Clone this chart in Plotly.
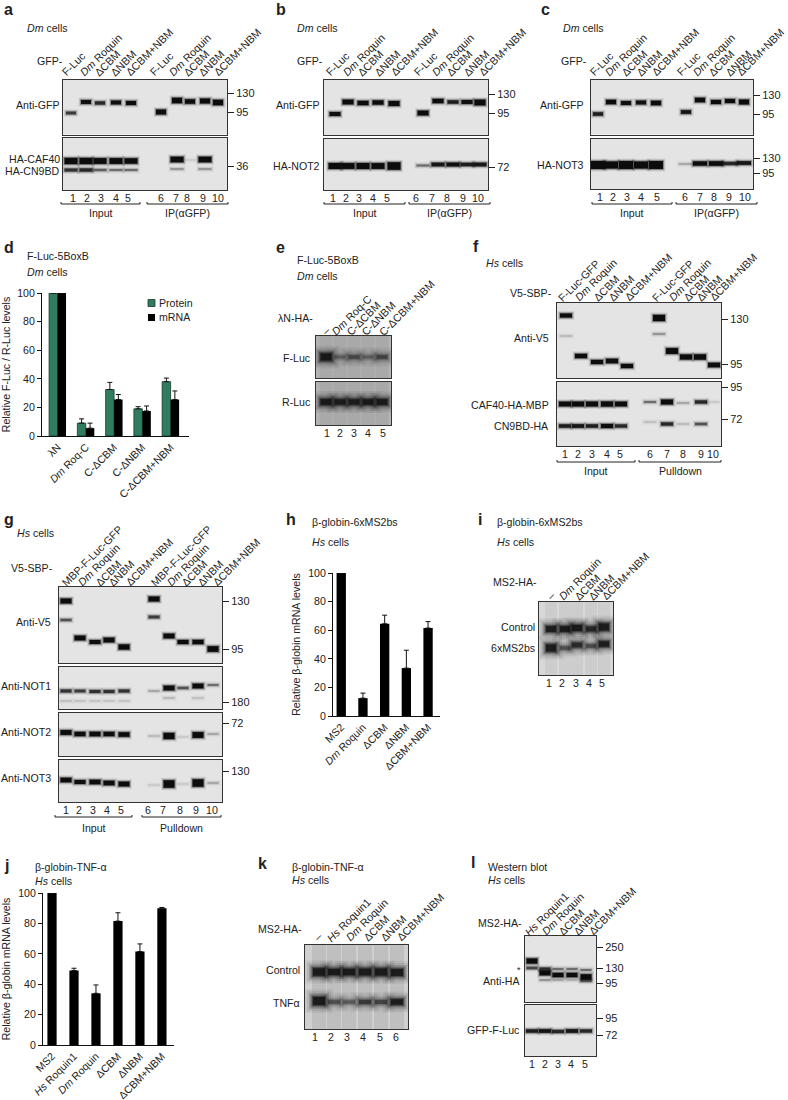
import plotly.graph_objects as go

W, H = 788, 1100
FONT = "Liberation Sans"
INK = "#222222"
TS = 10.6

# ---------- bar chart values ----------
D_CATS = ["λN", "<i>Dm</i> Roq-C", "C-ΔCBM", "C-ΔNBM", "C-ΔCBM+NBM"]
D_PROTEIN = [100, 9, 32.5, 19, 38]
D_PROTEIN_ERR = [0, 3, 5, 1.5, 2.5]
D_MRNA = [100, 5.5, 25.5, 17.5, 25.5]
D_MRNA_ERR = [0, 3.5, 3.5, 3.5, 6]

H_CATS = ["MS2", "<i>Dm</i> Roquin", "ΔCBM", "ΔNBM", "ΔCBM+NBM"]
H_VALUES = [100, 12.5, 64.5, 33.5, 61.5]
H_ERR = [0, 3.5, 6, 12.5, 4.5]

J_CATS = ["MS2", "<i>Hs</i> Roquin1", "<i>Dm</i> Roquin", "ΔCBM", "ΔNBM", "ΔCBM+NBM"]
J_VALUES = [100, 49, 34, 81.5, 61.5, 90]
J_ERR = [0, 1.5, 5.5, 5.5, 5, 0.5]

# ---------- blot bands: lane number, migration (from blot top), signal ----------
A1_LANE = [1, 2, 3, 4, 5, 6, 7, 8, 9, 10]
A1_MIG = [33, 22, 23, 22.5, 23, 32, 20.5, 21.5, 21, 22.5]
A1_SIG = [0.5, 0.75, 0.6, 0.75, 0.8, 1.0, 1.1, 0.9, 1.0, 1.1]
A2_LANE = [1, 2, 3, 4, 5, 1, 2, 3, 4, 5, 7, 9, 7, 9, 8]
A2_MIG = [23, 23, 23, 23, 23, 32, 32, 32, 32, 32, 21.5, 21.5, 31, 31, 22]
A2_SIG = [1.3, 1.3, 1.2, 1.2, 1.1, 0.55, 0.6, 0.35, 0.3, 0.3, 1.15, 1.15, 0.2, 0.2, 0.04]

B1_LANE = [1, 2, 3, 4, 5, 6, 7, 8, 9, 10]
B1_MIG = [34, 22, 23, 22.5, 23.5, 33, 21, 22, 22, 22.5]
B1_SIG = [0.75, 0.95, 0.85, 0.85, 1.0, 0.95, 0.85, 0.65, 0.75, 1.2]
B2_LANE = [1, 2, 3, 4, 5, 6, 7, 8, 9, 10]
B2_MIG = [27, 27, 27, 27, 27, 26.5, 25.5, 25.5, 25.5, 25.5]
B2_SIG = [1.25, 1.2, 1.25, 1.2, 1.6, 0.3, 0.7, 0.75, 0.65, 0.7]

C1_LANE = [1, 2, 3, 4, 5, 6, 7, 8, 9, 10]
C1_MIG = [34, 22, 23, 22.5, 23, 32, 20, 22, 21, 22]
C1_SIG = [0.65, 0.85, 0.75, 0.75, 0.9, 0.7, 0.9, 0.8, 0.8, 0.95]
C2_LANE = [1, 2, 3, 4, 5, 6, 7, 8, 9, 10]
C2_MIG = [26, 26, 26, 26, 26, 25, 24.5, 24.5, 24.5, 24]
C2_SIG = [1.7, 1.5, 1.7, 1.5, 1.7, 0.15, 0.85, 0.9, 0.6, 0.7]

E1_LANE = [1, 2, 3, 4, 5]
E1_MIG = [21, 21, 21, 21, 21]
E1_SIG = [1.6, 0.3, 0.5, 0.3, 0.55]
E2_LANE = [1, 2, 3, 4, 5]
E2_MIG = [20, 20, 20, 20, 20]
E2_SIG = [1.2, 1.05, 1.05, 1.1, 1.15]

F1_LANE = [1, 1, 2, 3, 4, 5, 6, 6, 7, 8, 9, 10]
F1_MIG = [12.5, 33, 53, 59, 58, 63, 15, 31, 48, 54, 54, 62]
F1_SIG = [0.8, 0.1, 0.85, 0.8, 0.9, 0.8, 1.3, 0.2, 1.2, 1.05, 1.1, 0.9]
F2_LANE = [1, 2, 3, 4, 5, 1, 2, 3, 4, 5, 6, 7, 8, 9, 6, 7, 8, 9, 10]
F2_MIG = [22, 22, 22, 22, 22, 44, 44, 44, 44, 44, 20, 20, 21, 20, 40, 42, 42, 42, 20]
F2_SIG = [0.95, 1.0, 1.0, 1.05, 0.95, 0.65, 0.7, 0.65, 0.8, 0.6, 0.3, 1.0, 0.15, 0.6, 0.08, 0.6, 0.1, 0.4, 0.05]

G1_LANE = [1, 1, 2, 3, 4, 5, 6, 6, 7, 8, 9, 10]
G1_MIG = [14, 33, 51, 55, 53, 60, 12, 30, 49, 55, 55, 62]
G1_SIG = [1.0, 0.4, 0.95, 0.75, 0.95, 1.05, 1.0, 0.5, 0.95, 0.8, 0.85, 1.15]
G2_LANE = [1, 2, 3, 4, 5, 6, 7, 8, 9, 10, 1, 2, 3, 4, 5, 7, 9]
G2_MIG = [24, 24, 24.5, 24.5, 24, 24, 21, 21, 19, 18, 34, 34, 34, 34, 34, 31, 31]
G2_SIG = [0.55, 0.5, 0.55, 0.55, 0.55, 0.15, 0.95, 0.4, 0.95, 0.3, 0.08, 0.07, 0.07, 0.07, 0.07, 0.1, 0.08]
G3_LANE = [1, 2, 3, 4, 5, 6, 7, 8, 9, 10]
G3_MIG = [19.5, 21, 21, 21, 21.5, 23, 23, 24, 22, 21]
G3_SIG = [0.95, 0.85, 0.9, 0.85, 0.9, 0.1, 1.3, 0.05, 1.2, 0.15]
G4_LANE = [1, 2, 3, 4, 5, 6, 7, 8, 9, 10]
G4_MIG = [20, 22, 22, 23, 24, 25, 24, 24, 23, 23]
G4_SIG = [0.9, 0.75, 0.9, 0.9, 0.95, 0.05, 1.6, 0.05, 1.6, 0.15]

I_LANE = [1, 2, 3, 4, 5, 1, 2, 3, 4, 5]
I_MIG = [27, 27, 26, 27, 25, 46, 46, 43, 44, 42]
I_SIG = [1.2, 1.15, 1.3, 0.95, 1.6, 1.6, 0.5, 0.9, 0.55, 1.1]

K_LANE = [1, 2, 3, 4, 5, 6, 1, 2, 3, 4, 5, 6]
K_MIG = [27, 27, 27, 27, 27, 27.5, 56, 57, 57, 57, 57, 57]
K_SIG = [1.7, 1.3, 1.4, 1.5, 1.6, 1.5, 1.9, 0.5, 0.4, 0.7, 0.6, 1.1]

L1_LANE = [1, 1, 2, 2, 2, 3, 3, 3, 4, 4, 4, 5, 5, 5]
L1_MIG = [25, 32, 37, 33, 44, 39, 33, 44, 39, 33, 44, 41, 34, 45]
L1_SIG = [1.05, 0.45, 0.95, 0.55, 0.2, 0.85, 0.3, 0.15, 0.85, 0.3, 0.12, 1.15, 0.3, 0.35]
L2_LANE = [1, 2, 3, 4, 5]
L2_MIG = [26, 26, 26.5, 26, 26]
L2_SIG = [0.65, 0.7, 0.6, 0.7, 0.6]

# ---------- tick labels ----------
LANES_10 = ["1", "2", "3", "4", "5", "6", "7", "8", "9", "10"]
LANES_5 = ["1", "2", "3", "4", "5"]
LANES_6 = ["1", "2", "3", "4", "5", "6"]
DM_SET = ["<i>Dm</i> Roquin", "ΔCBM", "ΔNBM", "ΔCBM+NBM"]

fig = go.Figure()
annotations, shapes, layout_axes = [], [], {}
axis_counter = [0]
ROT_DX = -5
ROT_DY = 6


def px(x):
    return x / W


def py(y):
    return 1 - y / H


def txt(x, y, s, anchor="left", size=TS, **kw):
    annotations.append(dict(x=px(x), y=py(y), xref="paper", yref="paper", text=s, showarrow=False,
                            xanchor=anchor, yanchor="middle", font=dict(size=size, color=INK), borderpad=0, **kw))


def letter(x, y, s):
    txt(x, y, f"<b>{s}</b>", size=16)


def rot(y, xs, labels):
    for x, s in zip(xs, labels):
        annotations.append(dict(x=px(x + ROT_DX), y=py(y + ROT_DY), xref="paper", yref="paper", text=s, showarrow=False,
                                xanchor="left", yanchor="bottom", textangle=-45,
                                font=dict(size=10.8, color=INK), borderpad=0))


def bracket(x0, x1, y, label, ly):
    path = f"M{px(x0)},{py(y - 2)} L{px(x0)},{py(y)} L{px(x1)},{py(y)} L{px(x1)},{py(y - 2)}"
    shapes.append(dict(type="path", path=path, xref="paper", yref="paper", line=dict(color="#222", width=1)))
    txt((x0 + x1) / 2, ly, label, anchor="center")


def new_axes(x0, x1, y0, y1):
    axis_counter[0] += 1
    n = axis_counter[0]
    return n, [px(x0), px(x1)], [py(y1), py(y0)]


def blot(box, lane_x, lanes, mig, sig, lane_w, bg="#e4e4e4", kda=None, numbers=None, smear=0.0):
    x0, x1, y0, y1 = box
    n, dx, dy = new_axes(x0, x1, y0, y1)
    h = y1 - y0
    shapes.append(dict(type="rect", xref="paper", yref="paper", x0=px(x0), x1=px(x1), y0=py(y1), y1=py(y0),
                       fillcolor=bg, line=dict(width=0), layer="below"))
    if smear:
        for xc in lane_x:
            fig.add_trace(go.Scatter(x=[xc, xc], y=[0, h], mode="lines", xaxis=f"x{n}", yaxis=f"y{n}",
                                     line=dict(color="#333", width=lane_w), opacity=smear,
                                     hoverinfo="skip", showlegend=False))
    for lane, m, s in zip(lanes, mig, sig):
        xc = lane_x[lane - 1]
        if smear:
            thick = 2 + 3.2 * s
            alpha = min(1, 0.8 * s + 0.1)
            layers = ((16, 0.05), (12, 0.08), (8, 0.14), (5, 0.22), (2.5, 0.4), (0, 0.75))
        else:
            thick = 0.8 + 4.2 * s
            alpha = min(1, 1.25 * s + 0.03)
            layers = ((5, 0.08), (3, 0.16), (1.5, 0.35), (0, 1.0))
        for extra, op in layers:
            half = lane_w / 2 + extra / 2 - 1
            fig.add_trace(go.Scatter(x=[xc - half, xc + half], y=[m, m], mode="lines",
                                     xaxis=f"x{n}", yaxis=f"y{n}",
                                     line=dict(color="#0c0c0c", width=thick + extra), opacity=alpha * op,
                                     hoverinfo="skip", showlegend=False))
    kv = [k[0] - y0 for k in kda] if kda else []
    kt = [k[1] for k in kda] if kda else []
    layout_axes[f"xaxis{n}"] = dict(domain=dx, range=[x0, x1], anchor=f"y{n}", showgrid=False, zeroline=False,
                                    showline=True, mirror=True, linecolor="#333", linewidth=1,
                                    tickvals=numbers[0] if numbers else [], ticktext=numbers[1] if numbers else [],
                                    ticks="", ticklen=0, ticklabelstandoff=-2, tickangle=0, fixedrange=True,
                                    tickfont=dict(size=TS, color=INK))
    layout_axes[f"yaxis{n}"] = dict(domain=dy, range=[h, 0], anchor=f"x{n}", side="right", showgrid=False,
                                    zeroline=False, showline=True, mirror=True, linecolor="#333", linewidth=1,
                                    tickvals=kv, ticktext=kt, ticks="outside" if kda else "", ticklen=6,
                                    tickcolor="#222", tickwidth=1, fixedrange=True,
                                    tickfont=dict(size=TS + 0.4, color=INK))


def bars(box, xr, cats, series, ytitle, title_standoff):
    x0, x1, y0, y1 = box
    n, dx, dy = new_axes(x0, x1, y0, y1)
    for kw in series:
        fig.add_trace(go.Bar(x=list(range(len(cats))), xaxis=f"x{n}", yaxis=f"y{n}", hoverinfo="skip", **kw))
    layout_axes[f"xaxis{n}"] = dict(domain=dx, range=xr, anchor=f"y{n}", showgrid=False, zeroline=False,
                                    showline=True, linecolor="#111", linewidth=1, tickvals=list(range(len(cats))),
                                    ticktext=cats, tickangle=-45, ticks="", fixedrange=True,
                                    tickfont=dict(size=TS, color=INK))
    layout_axes[f"yaxis{n}"] = dict(domain=dy, range=[0, 100], anchor=f"x{n}", showgrid=False, zeroline=False,
                                    showline=True, linecolor="#111", linewidth=1, ticks="outside", ticklen=4,
                                    tickvals=[0, 20, 40, 60, 80, 100], fixedrange=True, tickcolor="#111",
                                    tickfont=dict(size=TS, color=INK),
                                    title=dict(text=ytitle, standoff=title_standoff, font=dict(size=TS, color=INK)))


def err(vals):
    return dict(type="data", array=vals, arrayminus=[0] * len(vals), symmetric=False, color="#111", thickness=1, width=2.5)


# ---------- panel a ----------
letter(3, 10, "a")
txt(26, 28, "<i>Dm</i> cells")
txt(36, 61, "GFP-")
rot(74, [63, 81, 96, 112, 127, 151, 170, 185, 200, 215], ["F-Luc"] + DM_SET + ["F-Luc"] + DM_SET)
A_X = [71, 86, 100, 116, 131, 161, 177, 190, 205, 218]
blot((63, 227, 80, 134.5), A_X, A1_LANE, A1_MIG, A1_SIG, 12, kda=[(93, "130"), (112, "95")])
blot((63, 227, 138, 190), A_X, A2_LANE, A2_MIG, A2_SIG, 15, kda=[(166, "36")],
     numbers=([73, 87, 101, 116, 128, 161, 176, 187, 203, 218], LANES_10))
txt(61, 105, "Anti-GFP", "right")
txt(61, 159, "HA-CAF40", "right")
txt(61, 171, "HA-CN9BD", "right")
bracket(61, 140, 204, "Input", 213)
bracket(147, 228, 204, "IP(αGFP)", 213)

# ---------- panel b ----------
letter(275, 10, "b")
txt(296, 28, "<i>Dm</i> cells")
txt(296, 61, "GFP-")
rot(74, [327, 344, 359, 376, 392, 415, 433, 448, 465, 480], ["F-Luc"] + DM_SET + ["F-Luc"] + DM_SET)
B_X = [335, 348, 363, 378, 394, 423, 438, 453, 467, 480]
blot((324, 488, 80, 135), B_X, B1_LANE, B1_MIG, B1_SIG, 13, kda=[(94, "130"), (113, "95")])
blot((324, 488, 139, 190), B_X, B2_LANE, B2_MIG, B2_SIG, 15, kda=[(167, "72")],
     numbers=([333, 346, 359, 373, 387, 416, 432, 447, 463, 478], LANES_10))
txt(321, 105, "Anti-GFP", "right")
txt(321, 166, "HA-NOT2", "right")
bracket(324, 405, 204, "Input", 213)
bracket(409, 490, 204, "IP(αGFP)", 213)

# ---------- panel c ----------
letter(540, 10, "c")
txt(562, 28, "<i>Dm</i> cells")
txt(560, 61, "GFP-")
rot(74, [591, 606, 623, 638, 653, 678, 694, 710, 727, 738], ["F-Luc"] + DM_SET + ["F-Luc"] + DM_SET)
C_X = [598, 611, 626, 641, 656, 686, 700, 716, 730, 744]
blot((591, 753, 80, 134.5), C_X, C1_LANE, C1_MIG, C1_SIG, 12, kda=[(95, "130"), (114, "95")])
blot((591, 753, 139, 189), C_X, C2_LANE, C2_MIG, C2_SIG, 16, kda=[(158, "130"), (173, "95")],
     numbers=([600, 613, 627, 641, 657, 685, 700, 714, 729, 745], LANES_10))
txt(585, 105, "Anti-GFP", "right")
txt(585, 165, "HA-NOT3", "right")
bracket(592, 672, 204, "Input", 213)
bracket(676, 757, 204, "IP(αGFP)", 213)

# ---------- panel d ----------
letter(3, 247, "d")
txt(26, 256, "F-Luc-5BoxB")
txt(26, 272, "<i>Dm</i> cells")
bars((42, 189, 293, 436), [-0.55, 4.65], D_CATS, [
    dict(y=D_PROTEIN, name="Protein", width=0.3, offset=-0.3, marker=dict(color="#2f7d5e", line=dict(color="#17392b", width=0.8)),
         error_y=err(D_PROTEIN_ERR)),
    dict(y=D_MRNA, name="mRNA", width=0.3, offset=0, marker=dict(color="#000", line=dict(width=0)), error_y=err(D_MRNA_ERR)),
], "Relative F-Luc / R-Luc levels", 9)
shapes.append(dict(type="rect", xref="paper", yref="paper", x0=px(148), x1=px(155), y0=py(306.5), y1=py(299.5),
                   fillcolor="#2f7d5e", line=dict(color="#17392b", width=0.8)))
shapes.append(dict(type="rect", xref="paper", yref="paper", x0=px(148), x1=px(155), y0=py(321), y1=py(314),
                   fillcolor="#000", line=dict(width=0)))
txt(158, 303, "Protein")
txt(158, 317, "mRNA")

# ---------- panel e ----------
letter(275, 247, "e")
txt(296, 260, "F-Luc-5BoxB")
txt(296, 276, "<i>Dm</i> cells")
txt(277, 318, "λN-HA-")
rot(333, [323, 333, 348, 363, 380], ["–", "<i>Dm</i> Roq-C", "C-ΔCBM", "C-ΔNBM", "C-ΔCBM+NBM"])
E_X = [326, 340, 354, 368, 382]
blot((316, 391, 336, 378), E_X, E1_LANE, E1_MIG, E1_SIG, 13, bg="#b4b4b4", smear=0.08)
blot((316, 391, 382, 425), E_X, E2_LANE, E2_MIG, E2_SIG, 13, bg="#b4b4b4", smear=0.08,
     numbers=([327, 340, 354, 368, 383], LANES_5))
txt(312, 358, "F-Luc", "right")
txt(312, 402, "R-Luc", "right")

# ---------- panel f ----------
letter(472, 246, "f")
txt(485, 263, "<i>Hs</i> cells")
txt(509, 293, "V5-SBP-")
rot(299, [559, 576, 595, 610, 626, 653, 670, 685, 698, 711], ["F-Luc-GFP"] + DM_SET + ["F-Luc-GFP"] + DM_SET)
F1_X = [566, 581, 597, 612, 627, 659, 672, 686, 700, 714]
F2_X = [565, 578, 592, 607, 621, 650, 667, 683, 701, 713]
blot((557, 721, 303, 378), F1_X, F1_LANE, F1_MIG, F1_SIG, 14, kda=[(319, "130"), (364, "95")])
blot((557, 721, 382, 446), F2_X, F2_LANE, F2_MIG, F2_SIG, 14, kda=[(387, "95"), (419, "72")],
     numbers=([565, 578, 592, 607, 620, 650, 667, 683, 701, 713], LANES_10))
txt(550, 338, "Anti-V5", "right")
txt(550, 405, "CAF40-HA-MBP", "right")
txt(550, 426, "CN9BD-HA", "right")
bracket(557, 635, 462, "Input", 471)
bracket(639, 721, 462, "Pulldown", 471)

# ---------- panel g ----------
letter(3, 519, "g")
txt(16, 533, "<i>Hs</i> cells")
txt(10, 568, "V5-SBP-")
rot(584, [63, 79, 97, 110, 127, 152, 168, 183, 199, 214], ["MBP-F-Luc-GFP"] + DM_SET + ["MBP-F-Luc-GFP"] + DM_SET)
G_X = [66, 80, 95, 109, 124, 154, 169, 183, 198, 213]
blot((59, 222, 587, 663), G_X, G1_LANE, G1_MIG, G1_SIG, 13, kda=[(601, "130"), (649, "95")])
blot((59, 222, 667, 709), G_X, G2_LANE, G2_MIG, G2_SIG, 13, kda=[(702, "180")])
blot((59, 222, 713, 756), G_X, G3_LANE, G3_MIG, G3_SIG, 13, kda=[(723, "72")])
blot((59, 222, 760, 802), G_X, G4_LANE, G4_MIG, G4_SIG, 13, kda=[(771, "130")],
     numbers=([66, 79, 93, 107, 121, 148, 163, 180, 196, 212], LANES_10))
txt(52, 622, "Anti-V5", "right")
txt(52, 686, "Anti-NOT1", "right")
txt(52, 732, "Anti-NOT2", "right")
txt(52, 778, "Anti-NOT3", "right")
bracket(55, 132, 817, "Input", 828)
bracket(142, 221, 817, "Pulldown", 828)

# ---------- panel h ----------
letter(285, 519, "h")
txt(311, 522, "β-globin-6xMS2bs")
txt(311, 542, "<i>Hs</i> cells")
bars((333, 440, 573, 716), [-0.38, 4.55], H_CATS, [
    dict(y=H_VALUES, name="mRNA", width=0.43, marker=dict(color="#000", line=dict(width=0)), error_y=err(H_ERR)),
], "Relative β-globin mRNA levels", 5)

# ---------- panel i ----------
letter(477, 519, "i")
txt(496, 522, "β-globin-6xMS2bs")
txt(496, 542, "<i>Hs</i> cells")
txt(492, 582, "MS2-HA-")
rot(598, [548, 560, 576, 590, 603], ["–"] + DM_SET)
I_X = [551, 565, 577, 591, 604]
blot((539, 613, 602, 675), I_X, I_LANE, I_MIG, I_SIG, 12, bg="#d8d8d8", smear=0.06,
     numbers=([549, 562, 576, 589, 602], LANES_5))
txt(536, 627, "Control", "right")
txt(536, 648, "6xMS2bs", "right")

# ---------- panel j ----------
letter(3, 865, "j")
txt(34, 867, "β-globin-TNF-α")
txt(34, 881, "<i>Hs</i> cells")
bars((43, 174, 893, 1045), [-0.41, 5.55], J_CATS, [
    dict(y=J_VALUES, name="mRNA", width=0.42, marker=dict(color="#000", line=dict(width=0)), error_y=err(J_ERR)),
], "Relative β-globin mRNA levels", 16)

# ---------- panel k ----------
letter(257, 863, "k")
txt(291, 867, "β-globin-TNF-α")
txt(291, 880, "<i>Hs</i> cells")
txt(257, 929, "MS2-HA-")
rot(939, [315, 328, 347, 365, 382, 398], ["–", "<i>Hs</i> Roquin1"] + DM_SET)
K_X = [319, 334, 349, 365, 381, 397]
blot((305, 408, 945, 1029), K_X, K_LANE, K_MIG, K_SIG, 14, bg="#d0d0d0", smear=0.1,
     numbers=([315, 331, 347, 363, 380, 396], LANES_6))
txt(301, 970, "Control", "right")
txt(301, 1003, "TNFα", "right")

# ---------- panel l ----------
letter(470, 862, "l")
txt(487, 867, "Western blot")
txt(487, 880, "<i>Hs</i> cells")
txt(477, 923, "MS2-HA-")
rot(933, [526, 543, 560, 575, 590], ["<i>Hs</i> Roquin1"] + DM_SET)
L_X = [532, 545, 558, 572, 586]
blot((525, 596, 936, 1002), L_X, L1_LANE, L1_MIG, L1_SIG, 13, kda=[(947, "250"), (968, "130"), (983, "95")])
blot((525, 596, 1005, 1056), L_X, L2_LANE, L2_MIG, L2_SIG, 14, kda=[(1018, "95"), (1035, "72")],
     numbers=([532, 545, 558, 571, 585], LANES_5))
txt(521, 981, "Anti-HA", "right")
txt(519, 970, "*", "center", size=9)
txt(521, 1030, "GFP-F-Luc", "right")

fig.update_layout(width=W, height=H, margin=dict(l=0, r=0, t=0, b=0, pad=0, autoexpand=False), autosize=False,
                  paper_bgcolor="white", plot_bgcolor="rgba(0,0,0,0)", showlegend=False,
                  barmode="overlay", font=dict(family=FONT, color=INK, size=TS),
                  annotations=annotations, shapes=shapes, **layout_axes)

fig.write_html("out.html",
               post_script=("document.documentElement.style.margin='0';document.body.style.margin='0';"
                            "document.body.style.padding='0';"
                            "var g=document.querySelector('.plotly-graph-div');"
                            "g.style.position='absolute';g.style.left='0px';g.style.top='0px';"),
               config={"displayModeBar": False})
